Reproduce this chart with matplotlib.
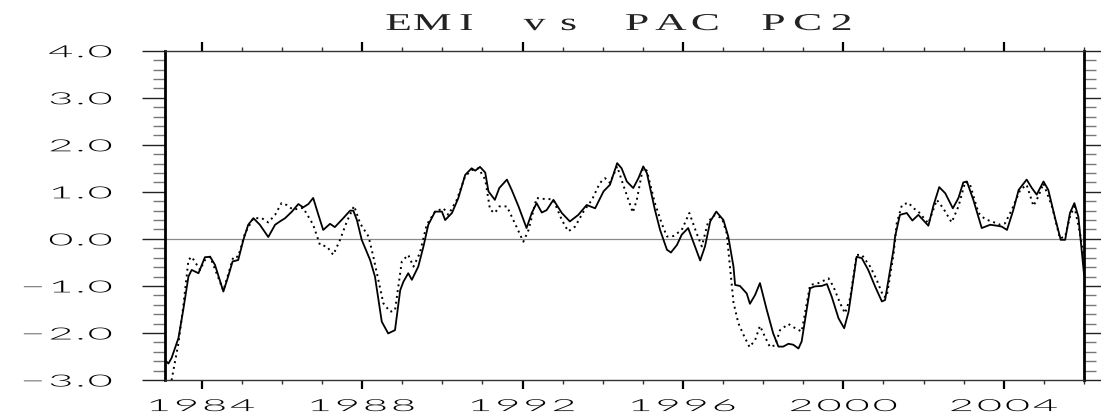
import numpy as np
import matplotlib
matplotlib.use("Agg")
import matplotlib.pyplot as plt
from matplotlib.patheffects import AbstractPathEffect
from matplotlib.path import Path
from matplotlib.ticker import FixedLocator, MultipleLocator

# ---------------- data ----------------
title = "EMI vs PAC PC2"

emi_t = [1983.08, 1983.17, 1983.25, 1983.42, 1983.54, 1983.67, 1983.75, 1983.92,
         1984.08, 1984.21, 1984.33, 1984.54, 1984.66, 1984.77, 1984.91, 1985.04,
         1985.16, 1985.29, 1985.45, 1985.66, 1985.83, 1985.95, 1986.08, 1986.25,
         1986.41, 1986.53, 1986.66, 1986.78, 1986.91, 1987.03, 1987.20, 1987.32,
         1987.53, 1987.70, 1987.78, 1987.87, 1987.99, 1988.20, 1988.32, 1988.49,
         1988.65, 1988.82, 1988.95, 1989.03, 1989.15, 1989.24, 1989.40, 1989.53,
         1989.65, 1989.82, 1989.99, 1990.07, 1990.24, 1990.40, 1990.57, 1990.73,
         1990.82, 1990.94, 1991.07, 1991.15, 1991.31, 1991.42, 1991.61, 1991.73,
         1991.90, 1992.10, 1992.23, 1992.35, 1992.48, 1992.60, 1992.77, 1992.98,
         1993.18, 1993.39, 1993.60, 1993.81, 1994.02, 1994.18, 1994.36, 1994.47,
         1994.60, 1994.76, 1994.89, 1995.01, 1995.10, 1995.30, 1995.43, 1995.60,
         1995.70, 1995.85, 1995.97, 1996.13, 1996.30, 1996.43, 1996.55, 1996.68,
         1996.83, 1997.01, 1997.13, 1997.26, 1997.30, 1997.42, 1997.59, 1997.67,
         1997.80, 1997.92, 1998.09, 1998.25, 1998.38, 1998.50, 1998.63, 1998.75,
         1998.88, 1998.96, 1999.17, 1999.29, 1999.46, 1999.59, 1999.71, 1999.88,
         2000.02, 2000.13, 2000.33, 2000.46, 2000.62, 2000.79, 2000.96, 2001.04,
         2001.25, 2001.29, 2001.41, 2001.58, 2001.72, 2001.87, 2002.12, 2002.25,
         2002.39, 2002.54, 2002.73, 2002.87, 2002.99, 2003.08, 2003.24, 2003.45,
         2003.66, 2003.83, 2003.95, 2004.08, 2004.24, 2004.37, 2004.57, 2004.70,
         2004.82, 2004.99, 2005.11, 2005.28, 2005.42, 2005.53, 2005.65, 2005.76,
         2005.86, 2005.95, 2006.00]
emi_v = [-2.57, -2.65, -2.53, -2.11, -1.51, -0.80, -0.66, -0.73,
         -0.39, -0.38, -0.55, -1.12, -0.80, -0.48, -0.45, -0.02,
         0.30, 0.44, 0.30, 0.04, 0.30, 0.37, 0.44, 0.58,
         0.74, 0.67, 0.74, 0.87, 0.51, 0.19, 0.32, 0.25,
         0.44, 0.60, 0.60, 0.40, -0.02, -0.45, -0.80, -1.76,
         -2.01, -1.94, -1.09, -0.91, -0.73, -0.87, -0.59, -0.16,
         0.30, 0.58, 0.58, 0.40, 0.55, 0.87, 1.36, 1.50,
         1.45, 1.53, 1.41, 1.01, 0.83, 1.08, 1.26, 1.04,
         0.69, 0.23, 0.55, 0.76, 0.56, 0.61, 0.83, 0.55,
         0.37, 0.51, 0.72, 0.65, 1.01, 1.15, 1.61, 1.50,
         1.22, 1.08, 1.29, 1.54, 1.40, 0.62, 0.19, -0.23,
         -0.29, -0.13, 0.09, 0.23, -0.16, -0.46, -0.16, 0.37,
         0.58, 0.40, 0.05, -0.59, -0.98, -1.00, -1.16, -1.38,
         -1.19, -0.94, -1.51, -2.01, -2.29, -2.29, -2.23, -2.25,
         -2.33, -2.18, -1.05, -1.01, -1.00, -0.96, -1.23, -1.69,
         -1.90, -1.55, -0.38, -0.41, -0.66, -1.01, -1.33, -1.30,
         -0.23, 0.05, 0.51, 0.55, 0.39, 0.51, 0.28, 0.72,
         1.10, 0.97, 0.65, 0.87, 1.20, 1.22, 0.83, 0.23,
         0.30, 0.28, 0.26, 0.19, 0.62, 1.04, 1.26, 1.08,
         0.94, 1.22, 1.04, 0.44, -0.02, -0.02, 0.55, 0.76,
         0.47, -0.30, -0.75]

pc2_t = [1983.08, 1983.25, 1983.42, 1983.54, 1983.67, 1983.75, 1983.96, 1984.08,
         1984.21, 1984.54, 1984.79, 1984.91, 1985.08, 1985.29, 1985.50, 1985.66,
         1985.83, 1985.99, 1986.12, 1986.28, 1986.53, 1986.78, 1986.95, 1987.12,
         1987.28, 1987.45, 1987.62, 1987.80, 1987.95, 1988.16, 1988.28, 1988.53,
         1988.70, 1988.82, 1988.99, 1989.15, 1989.28, 1989.44, 1989.61, 1989.82,
         1990.03, 1990.15, 1990.36, 1990.57, 1990.73, 1990.90, 1991.07, 1991.19,
         1991.31, 1991.42, 1991.61, 1991.81, 1992.02, 1992.15, 1992.35, 1992.48,
         1992.64, 1992.77, 1992.98, 1993.14, 1993.31, 1993.52, 1993.73, 1993.93,
         1994.06, 1994.18, 1994.36, 1994.51, 1994.64, 1994.75, 1994.85, 1995.00,
         1995.10, 1995.30, 1995.47, 1995.60, 1995.76, 1995.97, 1996.16, 1996.34,
         1996.47, 1996.63, 1996.80, 1996.97, 1997.09, 1997.13, 1997.26, 1997.38,
         1997.51, 1997.66, 1997.80, 1997.92, 1998.05, 1998.17, 1998.30, 1998.42,
         1998.63, 1998.80, 1998.96, 1999.17, 1999.38, 1999.63, 1999.75, 1999.92,
         2000.04, 2000.17, 2000.33, 2000.46, 2000.67, 2000.83, 2001.00, 2001.08,
         2001.25, 2001.33, 2001.46, 2001.62, 2001.75, 2001.87, 2002.12, 2002.33,
         2002.49, 2002.70, 2002.87, 2003.04, 2003.16, 2003.37, 2003.53, 2003.70,
         2003.91, 2004.03, 2004.20, 2004.41, 2004.57, 2004.74, 2004.86, 2004.99,
         2005.20, 2005.40, 2005.53, 2005.65, 2005.76, 2005.90, 2006.00]
pc2_v = [-3.35, -3.00, -2.22, -1.44, -0.45, -0.38, -0.66, -0.45,
         -0.38, -1.10, -0.38, -0.38, 0.12, 0.44, 0.44, 0.35,
         0.51, 0.76, 0.72, 0.62, 0.66, 0.30, -0.13, -0.16,
         -0.34, -0.02, 0.37, 0.70, 0.33, 0.05, -0.38, -1.37,
         -1.55, -1.52, -0.48, -0.34, -0.59, -0.30, 0.30, 0.58,
         0.65, 0.51, 0.83, 1.33, 1.46, 1.50, 1.26, 0.62,
         0.55, 0.69, 0.69, 0.33, -0.06, 0.19, 0.87, 0.85,
         0.85, 0.83, 0.40, 0.16, 0.26, 0.58, 0.83, 1.19,
         1.29, 1.19, 1.54, 1.15, 0.83, 0.56, 0.83, 1.50,
         1.45, 0.76, 0.33, 0.05, 0.06, 0.19, 0.55, 0.12,
         -0.16, 0.37, 0.51, 0.44, 0.12, -0.23, -1.35, -1.79,
         -2.04, -2.30, -2.15, -1.85, -2.09, -2.30, -2.26, -1.94,
         -1.81, -1.90, -1.97, -0.98, -0.94, -0.84, -1.01, -1.37,
         -1.58, -1.26, -0.34, -0.34, -0.59, -0.87, -1.23, -1.23,
         -0.34, 0.33, 0.72, 0.77, 0.65, 0.58, 0.33, 0.83,
         0.65, 0.35, 0.69, 1.22, 1.15, 0.55, 0.42, 0.37,
         0.30, 0.33, 0.62, 1.04, 1.15, 0.70, 0.90, 1.18,
         0.69, 0.01, 0.05, 0.47, 0.69, 0.12, -0.45]

x_major = [1984, 1988, 1992, 1996, 2000, 2004]
x_labels = ["1984", "1988", "1992", "1996", "2000", "2004"]
y_major = [-3.0, -2.0, -1.0, 0.0, 1.0, 2.0, 3.0, 4.0]
y_labels = ["\u22123.0", "\u22122.0", "\u22121.0", "0.0", "1.0", "2.0", "3.0", "4.0"]


# ---------------- wide "NCL-like" lettering via a path effect ----------------
class Spread(AbstractPathEffect):
    """Widen each glyph by `glyph`; space glyphs by `pitch`, or on a fixed
    character grid of `cell` pixels when `text` is given (text stays text)."""

    def __init__(self, glyph=2.0, pitch=2.5, anchor="center", text=None, cell=None):
        super().__init__()
        self.glyph, self.pitch, self.anchor = glyph, pitch, anchor
        self.text, self.cell = text, cell

    def draw_path(self, renderer, gc, tpath, affine, rgbFace=None):
        codes = tpath.codes
        verts = np.array(tpath.vertices, dtype=float)
        if codes is None or len(verts) == 0:
            renderer.draw_path(gc, tpath, affine, rgbFace)
            return
        valid = (codes != Path.CLOSEPOLY) & (codes != Path.STOP)
        starts = list(np.flatnonzero(codes == Path.MOVETO)) + [len(verts)]
        conts = []
        for a, b in zip(starts[:-1], starts[1:]):
            m = valid[a:b]
            if not m.any():
                continue
            xs = verts[a:b, 0][m]
            conts.append((xs.min(), xs.max(), a, b))
        conts.sort()
        groups = []
        for x0, x1, a, b in conts:
            if groups:
                g0, g1 = groups[-1][0], groups[-1][1]
                ov = min(g1, x1) - max(g0, x0)
                wmin = max(min(g1 - g0, x1 - x0), 1e-9)
                if ov > 0.5 * wmin:
                    groups[-1][1] = max(g1, x1)
                    groups[-1][2].append((a, b))
                    continue
            groups.append([x0, x1, [(a, b)]])
        xmin = min(c[0] for c in conts)
        xmax = max(c[1] for c in conts)
        ref = {"left": xmin, "right": xmax, "center": 0.5 * (xmin + xmax)}[self.anchor]
        slots = None
        if self.text is not None and self.cell is not None:
            idx = [k for k, ch in enumerate(self.text) if not ch.isspace()]
            if len(idx) == len(groups):
                m = affine.get_matrix()
                scale = float(np.hypot(m[0, 0], m[1, 0]))
                cu = self.cell / scale
                mid = 0.5 * (len(self.text) - 1)
                slots = [ref + (k - mid) * cu for k in idx]
        for i, (x0, x1, segs) in enumerate(groups):
            c = 0.5 * (x0 + x1)
            nc = slots[i] if slots is not None else ref + (c - ref) * self.pitch
            for a, b in segs:
                verts[a:b, 0] = nc + (verts[a:b, 0] - c) * self.glyph
        renderer.draw_path(gc, Path(verts, codes), affine, rgbFace)


# ---------------- figure ----------------
W, H = 1101, 416
fig = plt.figure(figsize=(W / 100, H / 100), dpi=100)
ax = fig.add_axes([165 / W, (H - 380) / H, (1084 - 165) / W, (380 - 50.7) / H])

ax.plot(emi_t, emi_v, color="black", lw=1.3, solid_joinstyle="round", zorder=3)
ax.plot(pc2_t, pc2_v, color="black", lw=1.4, linestyle=(0, (1, 2.0)), zorder=3)
ax.axhline(0.0, color="#8a8a8a", lw=0.9, zorder=2)

ax.set_xlim(1983.085, 2006.0)
ax.set_ylim(-3.0, 4.0)

ax.xaxis.set_major_locator(FixedLocator(x_major))
ax.xaxis.set_minor_locator(MultipleLocator(1))
ax.set_xticklabels(x_labels)
ax.yaxis.set_major_locator(FixedLocator(y_major))
ax.yaxis.set_minor_locator(MultipleLocator(0.2))
ax.set_yticklabels(y_labels)

num_font = dict(family="Lato", weight=300, size=12)
for lab in ax.get_xticklabels() + ax.get_yticklabels():
    lab.set_fontfamily(num_font["family"])
    lab.set_fontweight(num_font["weight"])
    lab.set_fontsize(num_font["size"])

ax.tick_params(axis="x", which="major", direction="out", top=True, bottom=True,
               length=6.5, width=1.6, color="black", pad=6.5)
ax.tick_params(axis="x", which="minor", direction="out", top=True, bottom=True,
               length=3.0, width=1.0, color="#333333")
ax.tick_params(axis="y", which="major", direction="out", left=True, right=True,
               length=16.5, width=1.0, color="#222222", pad=21)
ax.tick_params(axis="y", which="minor", direction="out", left=True, right=True,
               length=8.5, width=1.0, color="#777777")

for side in ("left", "right"):
    ax.spines[side].set_linewidth(2.0)
    ax.spines[side].set_color("black")
for side in ("top", "bottom"):
    ax.spines[side].set_linewidth(1.0)
    ax.spines[side].set_color("#333333")

fig.text(620 / W, 1 - 30 / H, title, ha="center", va="baseline",
         family="Liberation Serif", fontsize=17.4, color="#222222",
         path_effects=[Spread(glyph=1.8, anchor="center", text=title, cell=34.1)])

fig.canvas.draw()
for lab in ax.get_xticklabels():
    lab.set_path_effects([Spread(glyph=2.6, pitch=2.9, anchor="center")])
for lab in ax.get_yticklabels():
    lab.set_path_effects([Spread(glyph=2.6, pitch=2.9, anchor="right")])

fig.savefig("out.png", dpi=100)
